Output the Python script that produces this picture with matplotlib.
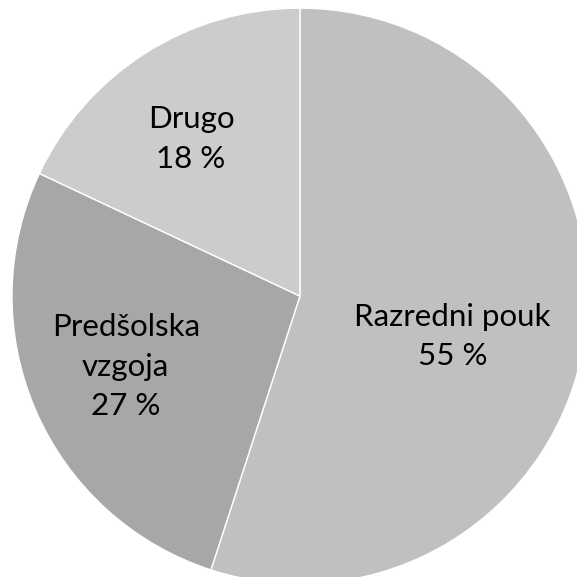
import matplotlib
matplotlib.use("Agg")
import matplotlib.pyplot as plt

# share of respondents by study programme
categories = ['Razredni pouk', 'Predšolska\nvzgoja', 'Drugo']
shares = [55, 27, 18]
colors = ['#bfc0c2', '#a6a7a9', '#cbcccd']

# label anchor points in pie units (radius = 1)
label_pos = [(0.53, -0.14), (-0.605, -0.245), (-0.378, 0.545)]

fig = plt.figure(figsize=(5.77, 5.77), dpi=100)
ax = fig.add_axes([0.0208, -0.0121, 0.998, 0.998])

ax.pie(shares, colors=colors, startangle=90, counterclock=False,
       wedgeprops=dict(edgecolor='white', linewidth=1.0))

for name, val, (x, y) in zip(categories, shares, label_pos):
    ax.text(x, y, f'{name}\n{val} %', ha='center', va='center',
            fontsize=22.5, family='Lato', color='black', linespacing=1.5)

ax.set_xlim(-1, 1)
ax.set_ylim(-1, 1)
ax.set_aspect('equal')
ax.axis('off')

fig.savefig('out.png', dpi=100)
